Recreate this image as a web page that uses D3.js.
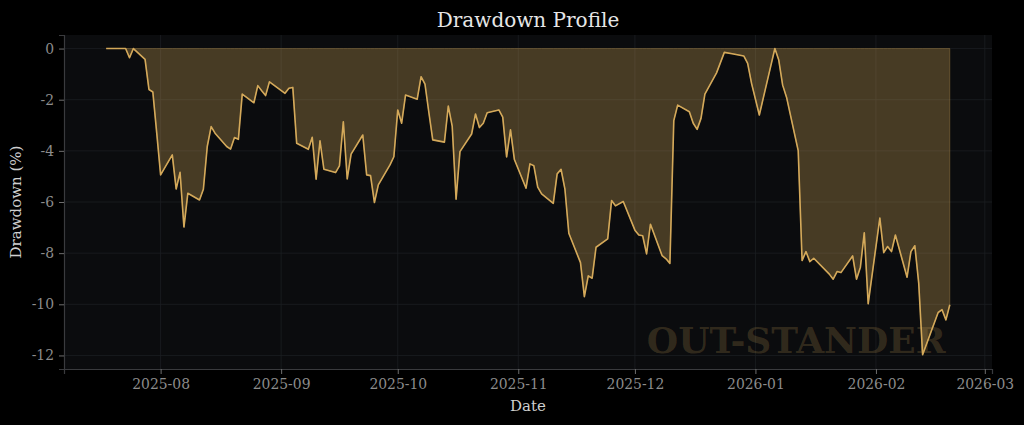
<html>
    <head>
        <meta charset="utf-8">
        <title>Drawdown Profile</title>
        <style>
            body { margin: 0; background: #000; }
            svg { display: block; font-family: 'DejaVu Serif', serif; }
        </style>
    </head>
    <body>
        <script src="https://d3js.org/d3.v7.min.js"></script>
        <script>
        // trading days and drawdown (%)
        var dates = [
            '2025-07-18','2025-07-21','2025-07-22','2025-07-23','2025-07-24','2025-07-25',
            '2025-07-28','2025-07-29','2025-07-30','2025-07-31','2025-08-01',
            '2025-08-04','2025-08-05','2025-08-06','2025-08-07','2025-08-08',
            '2025-08-11','2025-08-12','2025-08-13','2025-08-14','2025-08-15',
            '2025-08-18','2025-08-19','2025-08-20','2025-08-21','2025-08-22',
            '2025-08-25','2025-08-26','2025-08-27','2025-08-28','2025-08-29',
            '2025-09-02','2025-09-03','2025-09-04','2025-09-05',
            '2025-09-08','2025-09-09','2025-09-10','2025-09-11','2025-09-12',
            '2025-09-15','2025-09-16','2025-09-17','2025-09-18','2025-09-19',
            '2025-09-22','2025-09-23','2025-09-24','2025-09-25','2025-09-26',
            '2025-09-29','2025-09-30','2025-10-01','2025-10-02','2025-10-03',
            '2025-10-06','2025-10-07','2025-10-08','2025-10-09','2025-10-10',
            '2025-10-13','2025-10-14','2025-10-15','2025-10-16','2025-10-17',
            '2025-10-20','2025-10-21','2025-10-22','2025-10-23','2025-10-24',
            '2025-10-27','2025-10-28','2025-10-29','2025-10-30','2025-10-31',
            '2025-11-03','2025-11-04','2025-11-05','2025-11-06','2025-11-07',
            '2025-11-10','2025-11-11','2025-11-12','2025-11-13','2025-11-14',
            '2025-11-17','2025-11-18','2025-11-19','2025-11-20','2025-11-21',
            '2025-11-24','2025-11-25','2025-11-26','2025-11-28',
            '2025-12-01','2025-12-02','2025-12-03','2025-12-04','2025-12-05',
            '2025-12-08','2025-12-09','2025-12-10','2025-12-11','2025-12-12',
            '2025-12-15','2025-12-16','2025-12-17','2025-12-18','2025-12-19',
            '2025-12-22','2025-12-23','2025-12-24','2025-12-26',
            '2025-12-29','2025-12-30','2025-12-31','2026-01-02',
            '2026-01-05','2026-01-06','2026-01-07','2026-01-08','2026-01-09',
            '2026-01-12','2026-01-13','2026-01-14','2026-01-15','2026-01-16',
            '2026-01-20','2026-01-21','2026-01-22','2026-01-23',
            '2026-01-26','2026-01-27','2026-01-28','2026-01-29','2026-01-30',
            '2026-02-02','2026-02-03','2026-02-04','2026-02-05','2026-02-06',
            '2026-02-09','2026-02-10','2026-02-11','2026-02-12','2026-02-13',
            '2026-02-17','2026-02-18','2026-02-19','2026-02-20'
        ];
        var drawdown = [
            0, 0, 0, 0, -0.36, 0,
            -0.42, -1.60, -1.70, -3.30, -4.94,
            -4.16, -5.49, -4.84, -6.98, -5.66,
            -5.92, -5.50, -3.83, -3.05, -3.31,
            -3.83, -3.93, -3.48, -3.55, -1.78,
            -2.12, -1.45, -1.65, -1.84, -1.30,
            -1.75, -1.55, -1.52, -3.70,
            -3.94, -3.47, -5.11, -3.61, -4.72,
            -4.85, -4.59, -2.86, -5.10, -4.13,
            -3.38, -4.94, -4.97, -6.02, -5.33,
            -4.55, -4.23, -2.40, -2.92, -1.82,
            -1.98, -1.10, -1.39, -2.50, -3.57,
            -3.66, -2.25, -3.03, -5.89, -4.03,
            -3.34, -2.56, -3.09, -2.92, -2.51,
            -2.40, -2.68, -4.24, -3.18, -4.34,
            -5.46, -4.51, -4.58, -5.42, -5.68,
            -6.05, -4.90, -4.72, -5.50, -7.22,
            -8.37, -9.70, -8.89, -8.98, -7.77,
            -7.44, -5.94, -6.15, -5.98,
            -7.10, -7.29, -7.32, -8.03, -6.87,
            -8.10, -8.22, -8.40, -2.82, -2.21,
            -2.47, -2.92, -3.16, -2.73, -1.78,
            -0.95, -0.55, -0.15, -0.20,
            -0.29, -0.58, -1.36, -2.60,
            -0.65, 0, -0.45, -1.43, -1.90,
            -3.99, -8.29, -7.94, -8.33, -8.20,
            -8.82, -9.02, -8.72, -8.76,
            -8.11, -9.02, -8.55, -7.20, -9.98,
            -6.63, -7.98, -7.74, -7.94, -7.29,
            -8.94, -7.94, -7.71, -9.17, -11.97,
            -10.32, -10.21, -10.61, -10.02
        ];
        var yTicks = [0, -2, -4, -6, -8, -10, -12];
        var xTicks = ['2025-08-01','2025-09-01','2025-10-01','2025-11-01','2025-12-01','2026-01-01','2026-02-01','2026-03-01'];

        var width = 1024;
        var height = 425;
        var margin = {top: 35, right: 32, bottom: 56, left: 64};
        var innerWidth = width - margin.left - margin.right;
        var innerHeight = height - margin.top - margin.bottom;

        var gold = '#d4a95a';
        var parseDate = d3.timeParse('%Y-%m-%d');

        var data = dates.map(function(d, i) {
            return {date: parseDate(d), dd: drawdown[i]};
        });

        var svg = d3.select('body')
                    .append('svg')
                    .attr('width', width)
                    .attr('height', height);

        svg.append('rect')
           .attr('width', width)
           .attr('height', height)
           .attr('fill', '#000');

        var g = svg.append('g')
                   .attr('transform', 'translate(' + margin.left + ',' + margin.top + ')');

        // plot background
        g.append('rect')
         .attr('width', innerWidth)
         .attr('height', innerHeight)
         .attr('fill', '#0b0c0e');

        // scales (5% padding on dates like the original)
        var ext = d3.extent(data, function(d) { return d.date; });
        var pad = (ext[1] - ext[0]) * 0.05;
        var x = d3.scaleTime()
                  .domain([new Date(+ext[0] - pad), new Date(+ext[1] + pad)])
                  .range([0, innerWidth]);

        var y = d3.scaleLinear()
                  .domain([-12.53, 0.53])
                  .range([innerHeight, 0]);

        var tickDates = xTicks.map(parseDate);

        // grid
        g.append('g')
         .selectAll('line')
         .data(tickDates)
         .enter()
         .append('line')
         .attr('x1', function(d) { return x(d); })
         .attr('x2', function(d) { return x(d); })
         .attr('y1', 0)
         .attr('y2', innerHeight)
         .attr('stroke', '#1c1e22')
         .attr('stroke-width', 0.8);

        g.append('g')
         .selectAll('line')
         .data(yTicks)
         .enter()
         .append('line')
         .attr('x1', 0)
         .attr('x2', innerWidth)
         .attr('y1', function(d) { return y(d); })
         .attr('y2', function(d) { return y(d); })
         .attr('stroke', '#1c1e22')
         .attr('stroke-width', 0.8);

        // area + line
        var area = d3.area()
                     .x(function(d) { return x(d.date); })
                     .y0(y(0))
                     .y1(function(d) { return y(d.dd); });

        var line = d3.line()
                     .x(function(d) { return x(d.date); })
                     .y(function(d) { return y(d.dd); });

        g.append('path')
         .datum(data)
         .attr('d', area)
         .attr('fill', gold)
         .attr('fill-opacity', 0.3)
         .attr('stroke', gold)
         .attr('stroke-opacity', 0.3)
         .attr('stroke-width', 1);

        // watermark
        g.append('text')
         .attr('x', innerWidth * 0.95)
         .attr('y', innerHeight - 16)
         .attr('text-anchor', 'end')
         .attr('font-size', '36px')
         .attr('font-weight', 'bold')
         .attr('fill', gold)
         .attr('fill-opacity', 0.2)
         .text('OUT-STANDER');

        g.append('path')
         .datum(data)
         .attr('d', line)
         .attr('fill', 'none')
         .attr('stroke', gold)
         .attr('stroke-width', 1.6)
         .attr('stroke-linejoin', 'round');

        // axes
        var xAxis = d3.axisBottom(x)
                      .tickValues(tickDates)
                      .tickFormat(d3.timeFormat('%Y-%m'))
                      .tickSize(5)
                      .tickPadding(5);

        var xg = g.append('g')
                  .attr('transform', 'translate(0,' + innerHeight + ')')
                  .call(xAxis);

        var yAxis = d3.axisLeft(y)
                      .tickValues(yTicks)
                      .tickFormat(function(d) { return String(d); })
                      .tickSize(5)
                      .tickPadding(5);

        var yg = g.append('g').call(yAxis);

        [xg, yg].forEach(function(ax) {
            ax.select('.domain').attr('stroke', '#3a3b3e').attr('stroke-width', 1.2);
            ax.selectAll('.tick line').attr('stroke', '#6e6e6e');
            ax.selectAll('.tick text')
              .attr('fill', '#8c8c8c')
              .attr('font-size', '13.9px')
              .attr('font-family', 'DejaVu Serif');
        });

        // axis labels
        g.append('text')
         .attr('x', innerWidth / 2)
         .attr('y', innerHeight + 42)
         .attr('text-anchor', 'middle')
         .attr('fill', '#d0d0d0')
         .attr('font-size', '15px')
         .text('Date');

        g.append('text')
         .attr('transform', 'translate(' + (-43) + ',' + (innerHeight / 2) + ') rotate(-90)')
         .attr('text-anchor', 'middle')
         .attr('fill', '#d0d0d0')
         .attr('font-size', '15px')
         .text('Drawdown (%)');

        // title
        g.append('text')
         .attr('x', innerWidth / 2)
         .attr('y', -8.5)
         .attr('text-anchor', 'middle')
         .attr('fill', '#e6e6e6')
         .attr('font-size', '20px')
         .text('Drawdown Profile');
        </script>
    </body>
</html>
